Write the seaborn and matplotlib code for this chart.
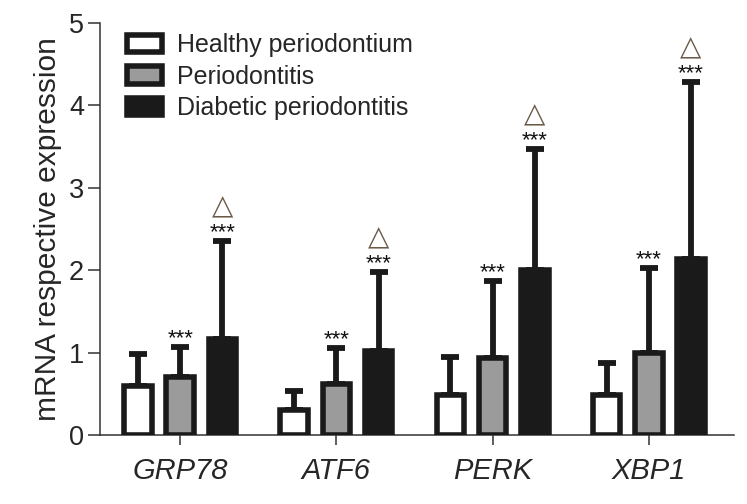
import numpy as np
import pandas as pd
import matplotlib
matplotlib.use("Agg")
import matplotlib.pyplot as plt
import seaborn as sns

genes = ["GRP78", "ATF6", "PERK", "XBP1"]
groups = ["Healthy periodontium", "Periodontitis", "Diabetic periodontitis"]
healthy_mean = [0.60, 0.30, 0.48, 0.49]
perio_mean = [0.70, 0.625, 0.93, 0.99]
diabetic_mean = [1.16, 1.02, 2.00, 2.14]
healthy_sd = [0.38, 0.24, 0.47, 0.38]
perio_sd = [0.37, 0.435, 0.94, 1.04]
diabetic_sd = [1.20, 0.96, 1.47, 2.15]
perio_stars = ["***", "***", "***", "***"]
diabetic_stars = ["***", "***", "***", "***"]
diabetic_tri = ["△", "△", "△", "△"]

colors = ["#ffffff", "#9b9b9b", "#1a1a1a"]
edge = "#1a1a1a"

means = [healthy_mean, perio_mean, diabetic_mean]
sds = [healthy_sd, perio_sd, diabetic_sd]
rows = []
for g, m, s in zip(groups, means, sds):
    for gene, mv, sv in zip(genes, m, s):
        rows.append({"gene": gene, "group": g, "mean": mv, "sd": sv})
df = pd.DataFrame(rows)

sns.set_style("white")
plt.rcParams["font.family"] = ["Liberation Sans", "DejaVu Sans"]

fig = plt.figure(figsize=(7.47, 5.04), dpi=100)
ax = fig.add_axes([100 / 747, 69 / 504, 634 / 747, 412 / 504])

sns.barplot(data=df, x="gene", y="mean", hue="group", order=genes,
            hue_order=groups, palette=colors, errorbar=None,
            width=0.81, gap=0.35, linewidth=4.0, edgecolor=edge,
            saturation=1, ax=ax, zorder=3)

for gi, g in enumerate(groups):
    cont = ax.containers[gi]
    for bi, bar in enumerate(cont):
        xc = bar.get_x() + bar.get_width() / 2
        m = means[gi][bi]
        s = sds[gi][bi]
        ax.errorbar([xc], [m], yerr=[[0], [s]], fmt="none", ecolor=edge,
                    elinewidth=4.2, capsize=6.5, capthick=4.2, zorder=2)
        top = m + s
        if gi == 1:
            ax.annotate(perio_stars[bi], (xc, top), xytext=(0, 2),
                        textcoords="offset points", ha="center", va="baseline",
                        fontsize=16, color="#111111")
        if gi == 2:
            ax.annotate(diabetic_stars[bi], (xc, top), xytext=(0, 2),
                        textcoords="offset points", ha="center", va="baseline",
                        fontsize=16, color="#111111")
            ax.annotate(diabetic_tri[bi], (xc, top), xytext=(0, 14.5),
                        textcoords="offset points", ha="center", va="bottom",
                        fontsize=20, color="#6b5a48",
                        family=["DejaVu Sans"])

ax.set_ylim(0, 5)
ax.set_xlim(-0.513, 3.545)
ax.set_yticks([0, 1, 2, 3, 4, 5])
ax.set_yticklabels(["0", "1", "2", "3", "4", "5"])
ax.set_xlabel("")
ax.set_ylabel("mRNA respective expression", fontsize=21.5, labelpad=5)
for lab in ax.get_xticklabels():
    lab.set_fontstyle("italic")
    lab.set_fontsize(21)
for lab in ax.get_yticklabels():
    lab.set_fontsize(19.5)

sns.despine(ax=ax)
for sp in ["left", "bottom"]:
    ax.spines[sp].set_color("#333333")
    ax.spines[sp].set_linewidth(1.1)
ax.tick_params(axis="y", direction="out", length=8.5, width=1.1,
               color="#333333", pad=3, left=True)
ax.tick_params(axis="x", direction="out", length=7.5, width=1.1,
               color="#333333", pad=8, bottom=True)

leg = ax.legend(loc="upper left", bbox_to_anchor=(0.043, 0.975), frameon=False,
                fontsize=18, handlelength=1.4, handleheight=0.7,
                handletextpad=0.6, labelspacing=0.3, borderpad=0.0,
                borderaxespad=0)

fig.savefig("out.png", dpi=100)
